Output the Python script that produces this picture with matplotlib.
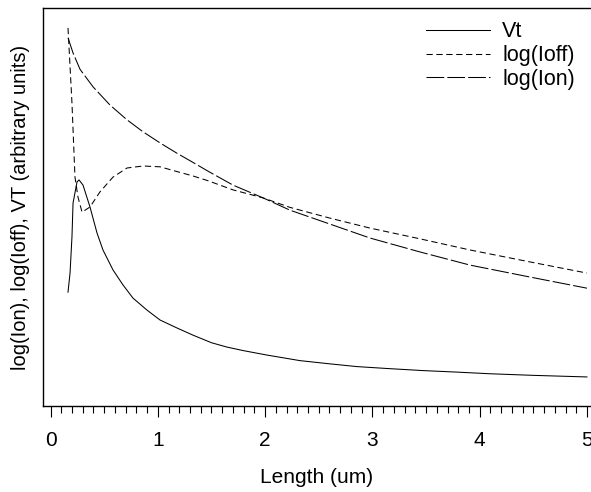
import matplotlib
matplotlib.use("Agg")
import matplotlib.pyplot as plt
from matplotlib.ticker import MultipleLocator

# Data (arbitrary units)
vt_x = [0.163, 0.182, 0.200, 0.210, 0.247, 0.266, 0.303, 0.368, 0.433, 0.489, 0.582, 0.676,
        0.769, 0.899, 1.021, 1.179, 1.328, 1.50, 1.645, 1.80, 2.017, 2.325, 2.60, 2.856,
        3.15, 3.471, 3.80, 4.096, 4.50, 5.0]
vt_y = [28.6, 33.4, 42.5, 51.0, 56.3, 56.8, 55.5, 50.0, 43.5, 39.2, 34.2, 30.4,
        27.1, 24.1, 21.6, 19.6, 17.8, 15.9, 14.8, 13.9, 12.8, 11.4, 10.6, 9.9,
        9.4, 8.9, 8.5, 8.1, 7.7, 7.3]

ioff_x = [0.163, 0.200, 0.228, 0.256, 0.294, 0.368, 0.461, 0.582, 0.713, 0.862, 1.021,
          1.179, 1.328, 1.468, 1.701, 1.980, 2.232, 2.605, 2.978, 3.444, 3.910, 4.469, 5.0]
ioff_y = [95.0, 76.1, 57.5, 52.5, 48.7, 50.0, 53.8, 57.5, 59.8, 60.3, 60.1,
          58.9, 57.8, 56.6, 54.3, 52.3, 49.9, 47.2, 44.7, 42.0, 39.2, 36.2, 33.4]

ion_x = [0.163, 0.210, 0.275, 0.396, 0.555, 0.713, 0.862, 1.021, 1.179, 1.328, 1.468,
         1.701, 1.980, 2.232, 2.605, 2.978, 3.444, 3.910, 4.469, 5.0]
ion_y = [92.5, 88.7, 84.6, 80.2, 75.6, 71.9, 68.9, 66.1, 63.5, 61.2, 59.0,
         55.5, 52.3, 49.2, 45.7, 42.2, 38.7, 35.4, 32.4, 29.6]

series_labels = ["Vt", "log(Ioff)", "log(Ion)"]
xtick_vals = [0, 1, 2, 3, 4, 5]

FONT = ["Liberation Sans", "DejaVu Sans"]

fig = plt.figure(figsize=(5.91, 4.92), dpi=100)
ax = fig.add_axes([43/591, 86/492, 547/591, 398/492])

lw = 0.75
ax.plot(vt_x, vt_y, color="black", lw=lw, label=series_labels[0])
ax.plot(ioff_x, ioff_y, color="black", lw=lw, linestyle=(0, (6, 3.5)), label=series_labels[1])
ax.plot(ion_x, ion_y, color="black", lw=lw, linestyle=(0, (17, 3)), label=series_labels[2])

ax.set_xlim(-0.07, 5.028)
ax.set_ylim(0, 100)
ax.spines["right"].set_visible(False)
for s in ["left", "bottom", "top"]:
    ax.spines[s].set_linewidth(1.0)

ax.set_yticks([])
ax.set_xticks(xtick_vals)
ax.xaxis.set_minor_locator(MultipleLocator(0.1))
ax.tick_params(axis="x", which="major", length=8, width=0.8, direction="out", pad=10)
ax.tick_params(axis="x", which="minor", length=5, width=0.8, direction="out")
for lab in ax.get_xticklabels():
    lab.set_fontfamily(["Liberation Sans Narrow"] + FONT)
    lab.set_fontsize(15)

ax.set_xlabel("Length (um)", fontsize=15, family=FONT, labelpad=13)
ax.set_ylabel("log(Ion), log(Ioff), VT (arbitrary units)", fontsize=14.5,
              family=FONT, labelpad=9)

leg = ax.legend(loc="upper right", bbox_to_anchor=(1.0, 1.004), frameon=False,
                prop={"family": FONT, "size": 15.5},
                handlelength=3.0, handletextpad=0.55, labelspacing=0.12, borderaxespad=0.3)

fig.savefig("out.png", dpi=100)
